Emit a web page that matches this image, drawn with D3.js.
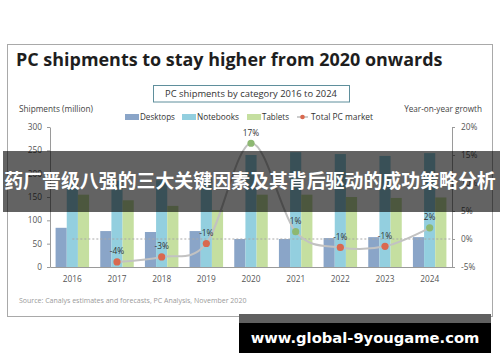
<!DOCTYPE html>
<html><head><meta charset="utf-8">
<script src="https://cdn.jsdelivr.net/npm/d3@7"></script>
<style>
html,body{margin:0;padding:0;background:#fff;}
svg{display:block;}
text{font-family:"Open Sans","Liberation Sans",sans-serif;}
</style></head>
<body>
<svg id="c" width="500" height="362"></svg>
<script>
// ---- data ----
const years = ["2016","2017","2018","2019","2020","2021","2022","2023","2024"];
const seriesNames = ["Desktops","Notebooks","Tablets"];
const desktops  = [84, 77, 75, 77, 60, 60, 62, 64, 64];
const notebooks = [183, 185, 186, 190, 240, 246, 242, 238, 244];
const tablets   = [155, 143, 131, 122, 155, 155, 150, 148, 149];
const growth    = [null, -4.1, -3.2, -0.8, 17.1, 1.3, -1.5, -1.3, 2.0];
const growthLabels = ["", "-4%", "-3%", "-1%", "17%", "1%", "-1%", "-1%", "2%"];
const leftTicks  = [0, 50, 100, 150, 200, 250, 300];
const rightTicks = [-5, 0, 5, 10, 15, 20];
const colors = {Desktops:"#8aa5c8", Notebooks:"#93cfdf", Tablets:"#c5dfa0"};
const titleText = "PC shipments to stay higher from 2020 onwards";
const subtitleText = "PC shipments by category 2016 to 2024";
const sourceText = "Source: Canalys estimates and forecasts, PC Analysis, November 2020";
const bannerText = "药厂晋级八强的三大关键因素及其背后驱动的成功策略分析";
const watermarkText = "www.global-9yougame.com";

const svg = d3.select("#c");
function fit(sel, w){
  const n = sel.node(); const fs = parseFloat(sel.attr("font-size"));
  const cw = n.getComputedTextLength();
  sel.attr("font-size", (fs*w/cw).toFixed(2));
  return sel;
}

// frame
svg.append("rect").attr("x",7.5).attr("y",44.5).attr("width",485).attr("height",272)
  .attr("fill","#fff").attr("stroke","#a9a9a9").attr("stroke-width",1);

fit(svg.append("text").attr("x",16).attr("y",66).attr("font-size",16).attr("font-weight","bold")
  .attr("fill","#1e1e1e").text(titleText), 427);

svg.append("rect").attr("x",153.5).attr("y",85.5).attr("width",196).attr("height",16.5)
  .attr("fill","#fff").attr("stroke","#5f8f9c").attr("stroke-width",1);
fit(svg.append("text").attr("x",251).attr("y",97).attr("text-anchor","middle").attr("font-size",8)
  .attr("fill","#333").text(subtitleText), 172);

fit(svg.append("text").attr("x",19).attr("y",112).attr("font-size",7.5).attr("fill","#444")
  .text("Shipments (million)"), 74);
fit(svg.append("text").attr("x",482).attr("y",112).attr("text-anchor","end").attr("font-size",7.5).attr("fill","#444")
  .text("Year-on-year growth"), 78);

// scales
const x = d3.scaleBand().domain(years).range([50,452]).paddingInner(0.25).paddingOuter(0.125);
const xs = d3.scaleBand().domain(seriesNames).range([0, x.bandwidth()]);
const yL = d3.scaleLinear().domain([0,300]).range([267,127]);
const yR = d3.scaleLinear().domain([-5,20]).range([267,127]);

// bars
const seriesVals = {Desktops:desktops, Notebooks:notebooks, Tablets:tablets};
seriesNames.forEach(s=>{
  svg.append("g").selectAll("rect").data(years).join("rect")
    .attr("x", (d)=>x(d)+xs(s)).attr("width", xs.bandwidth())
    .attr("y", (d,i)=>yL(seriesVals[s][i])).attr("height",(d,i)=>yL(0)-yL(seriesVals[s][i]))
    .attr("fill", colors[s]);
});

// axes
const axL = svg.append("g").attr("transform","translate(50,0)")
  .call(d3.axisLeft(yL).tickValues(leftTicks).tickSize(3).tickSizeOuter(0).tickPadding(5));
const axR = svg.append("g").attr("transform","translate(452,0)")
  .call(d3.axisRight(yR).tickValues(rightTicks).tickSize(3).tickSizeOuter(0).tickPadding(6).tickFormat(d=>d+"%"));
const axB = svg.append("g").attr("transform","translate(0,267)")
  .call(d3.axisBottom(x).tickSize(0).tickSizeOuter(0).tickPadding(9));
[axL,axR,axB].forEach(a=>{
  a.selectAll("path,line").attr("stroke","#9a9a9a");
  a.selectAll("text").attr("font-family",'"Open Sans",sans-serif').attr("font-size",8.3).attr("fill","#555");
});

// zero dashed line
svg.append("line").attr("x1", x(years[0])+x.bandwidth()/2).attr("x2",452)
  .attr("y1", yR(0)).attr("y2", yR(0))
  .attr("stroke","#a8a8a8").attr("stroke-width",1).attr("stroke-dasharray","2,2");

// growth line
const gpts = years.map((y,i)=>({y, v:growth[i], l:growthLabels[i]})).filter(d=>d.v!==null);
const cx = d=>x(d.y)+x.bandwidth()/2;
svg.append("path").datum(gpts)
  .attr("d", d3.line().x(cx).y(d=>yR(d.v)).curve(d3.curveCatmullRom.alpha(0)))
  .attr("fill","none").attr("stroke","#c2c2c2").attr("stroke-width",2);
svg.append("g").selectAll("circle").data(gpts).join("circle")
  .attr("cx",cx).attr("cy",d=>yR(d.v)).attr("r",3.6)
  .attr("fill",d=>d.v>0?"#8db872":"#d9694f");
svg.append("g").selectAll("text").data(gpts).join("text")
  .attr("x",cx).attr("y",d=>yR(d.v)-7.5).attr("text-anchor","middle")
  .attr("font-size",8.3).attr("fill","#333").text(d=>d.l);

// legend
const legend = [
  {n:"Desktops", sx:125, tx:140, w:35},
  {n:"Notebooks", sx:182, tx:197, w:42},
  {n:"Tablets", sx:247, tx:262, w:27}
];
legend.forEach(l=>{
  svg.append("rect").attr("x",l.sx).attr("y",114).attr("width",14).attr("height",6).attr("fill",colors[l.n]);
  fit(svg.append("text").attr("x",l.tx).attr("y",120).attr("font-size",7.5).attr("fill","#333").text(l.n), l.w);
});
svg.append("line").attr("x1",297).attr("x2",308).attr("y1",117).attr("y2",117).attr("stroke","#bdbdbd").attr("stroke-width",1.5);
svg.append("circle").attr("cx",302.5).attr("cy",117).attr("r",2.3).attr("fill","#d9694f");
fit(svg.append("text").attr("x",311).attr("y",120).attr("font-size",7.5).attr("fill","#333").text("Total PC market"), 62);

// source
fit(svg.append("text").attr("x",19).attr("y",303).attr("font-size",6.5).attr("fill","#9a9a9a").text(sourceText), 228);

// banner overlay
svg.append("rect").attr("x",3).attr("y",151).attr("width",497).attr("height",61).attr("fill","rgba(0,0,0,0.61)");
fit(svg.append("text").attr("x",250).attr("y",188).attr("text-anchor","middle").attr("font-size",19)
  .attr("font-weight","bold").attr("fill","#fff")
  .style("font-family",'"Noto Sans CJK SC",sans-serif').text(bannerText), 492);

// watermark
svg.append("rect").attr("x",239).attr("y",314).attr("width",252).attr("height",9).attr("fill","#606060");
svg.append("rect").attr("x",239).attr("y",323).attr("width",252).attr("height",30).attr("fill","#000");
fit(svg.append("text").attr("x",365).attr("y",343).attr("text-anchor","middle").attr("font-size",17)
  .attr("font-weight","bold").attr("fill","#fff")
  .style("font-family",'"DejaVu Sans",sans-serif').text(watermarkText), 229);
</script>
</body></html>
